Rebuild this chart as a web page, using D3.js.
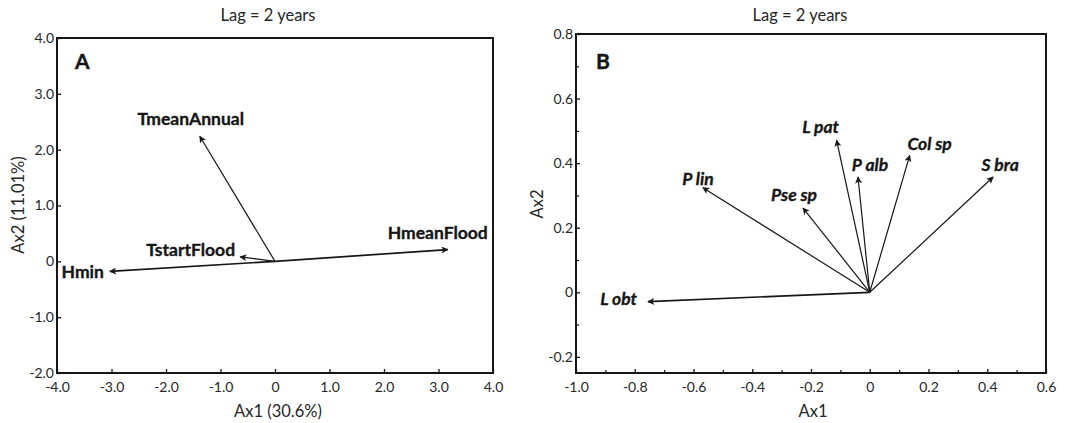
<!DOCTYPE html>
<html>
<head>
<meta charset="utf-8">
<script src="https://cdn.jsdelivr.net/npm/d3@7"></script>
<style>
  html, body { margin: 0; padding: 0; background: #fff; }
  svg { display: block; font-family: "Lato", "Open Sans", sans-serif; }
</style>
</head>
<body>
<svg id="chart" width="1071" height="423"></svg>
<script>
// ---------------- DATA ----------------
const titleText = "Lag = 2 years";

// Panel A: environmental variables (Ax1, Ax2)
const envNames = ["TmeanAnnual", "HmeanFlood", "Hmin", "TstartFlood"];
const envAx1   = [-1.38, 3.17, -3.03, -0.64];
const envAx2   = [2.24, 0.21, -0.18, 0.08];
const aXTicks  = [-4, -3, -2, -1, 0, 1, 2, 3, 4];
const aYTicks  = [-2, -1, 0, 1, 2, 3, 4];
const aXLabel  = "Ax1 (30.6%)";
const aYLabel  = "Ax2 (11.01%)";

// Panel B: species (Ax1, Ax2)
const spNames = ["L pat", "P alb", "Col sp", "S bra", "P lin", "Pse sp", "L obt"];
const spAx1   = [-0.113, -0.040, 0.136, 0.420, -0.568, -0.227, -0.755];
const spAx2   = [0.471, 0.357, 0.424, 0.357, 0.324, 0.261, -0.029];
const bXTicks = [-1.0, -0.8, -0.6, -0.4, -0.2, 0, 0.2, 0.4, 0.6];
const bYTicks = [-0.2, 0, 0.2, 0.4, 0.6, 0.8];
const bXLabel = "Ax1";
const bYLabel = "Ax2";

// ---------------- LAYOUT / STYLE ----------------
const svg = d3.select("#chart");
const ink = "#161616";

// label placement (pixel offsets from arrow tip, text anchor)
const envLabelPos = {
  "TmeanAnnual": {dx: -9,  dy: -18, anchor: "middle"},
  "HmeanFlood":  {dx: -10, dy: -17, anchor: "middle"},
  "Hmin":        {dx: -6,  dy: 0,   anchor: "end"},
  "TstartFlood": {dx: -5,  dy: -7,  anchor: "end"}
};
const spLabelPos = {
  "L pat":  {dx: -16, dy: -14, anchor: "middle"},
  "P alb":  {dx: 12,  dy: -12, anchor: "middle"},
  "Col sp": {dx: 20,  dy: -12, anchor: "middle"},
  "S bra":  {dx: 7,   dy: -12, anchor: "middle"},
  "P lin":  {dx: -5,  dy: -9,  anchor: "middle"},
  "Pse sp": {dx: -9,  dy: -13, anchor: "middle"},
  "L obt":  {dx: -11, dy: -3,  anchor: "end"}
};

// arrowhead marker
const defs = svg.append("defs");
defs.append("marker")
  .attr("id", "head")
  .attr("viewBox", "0 0 10 10")
  .attr("refX", 9).attr("refY", 5)
  .attr("markerWidth", 9).attr("markerHeight", 7)
  .attr("markerUnits", "userSpaceOnUse")
  .attr("orient", "auto")
  .append("path")
  .attr("d", "M0,0 L10,5 L0,10 L2.5,5 Z")
  .attr("fill", ink);

const tickFont = 14;
const textFont = 16.5;
const labelFont = 17.5;
const textInk = "#262626";

function panel(opts) {
  const x = d3.scaleLinear().domain(opts.xDomain).range(opts.xRange);
  const y = d3.scaleLinear().domain(opts.yDomain).range(opts.yRange);
  const g = svg.append("g");

  // title
  g.append("text")
    .attr("x", opts.titleX).attr("y", 21)
    .attr("text-anchor", "middle")
    .attr("font-size", textFont)
    .attr("fill", textInk)
    .text(titleText);

  const fmt = opts.fmt;

  // minor ticks
  if (opts.xMinor) {
    g.append("g")
      .attr("transform", `translate(0,${opts.yRange[0]})`)
      .call(d3.axisBottom(x).tickValues(opts.xMinor).tickSize(-3).tickFormat(""))
      .call(a => a.select(".domain").remove())
      .call(a => a.selectAll("line").attr("stroke", ink).attr("stroke-width", 1.2));
    g.append("g")
      .attr("transform", `translate(${opts.xRange[0]},0)`)
      .call(d3.axisLeft(y).tickValues(opts.yMinor).tickSize(-3).tickFormat(""))
      .call(a => a.select(".domain").remove())
      .call(a => a.selectAll("line").attr("stroke", ink).attr("stroke-width", 1.2));
  }

  // x axis
  const gx = g.append("g")
    .attr("transform", `translate(0,${opts.yRange[0]})`)
    .call(d3.axisBottom(x).tickValues(opts.xTicks).tickSize(-4).tickPadding(9).tickFormat(fmt));
  gx.select(".domain").remove();
  gx.selectAll("line").attr("stroke", ink).attr("stroke-width", 1.3);
  gx.selectAll("text").attr("font-size", tickFont).attr("fill", textInk).attr("font-family", "Lato");

  // y axis
  const gy = g.append("g")
    .attr("transform", `translate(${opts.xRange[0]},0)`)
    .call(d3.axisLeft(y).tickValues(opts.yTicks).tickSize(-4).tickPadding(3).tickFormat(fmt));
  gy.select(".domain").remove();
  gy.selectAll("line").attr("stroke", ink).attr("stroke-width", 1.3);
  gy.selectAll("text").attr("font-size", tickFont).attr("fill", textInk).attr("font-family", "Lato");

  // frame
  g.append("rect")
    .attr("x", opts.xRange[0]).attr("y", opts.yRange[1])
    .attr("width", opts.xRange[1] - opts.xRange[0])
    .attr("height", opts.yRange[0] - opts.yRange[1])
    .attr("fill", "none").attr("stroke", ink).attr("stroke-width", 2);

  // axis titles
  g.append("text")
    .attr("x", opts.xLabelX).attr("y", 417)
    .attr("text-anchor", "middle").attr("font-size", textFont).attr("fill", textInk)
    .text(opts.xLabel);
  g.append("text")
    .attr("transform", `translate(${opts.yLabelX},${opts.yLabelY}) rotate(-90)`)
    .attr("text-anchor", "middle").attr("font-size", textFont).attr("fill", textInk)
    .text(opts.yLabel);

  // panel letter
  g.append("text")
    .attr("x", opts.letterX).attr("y", 69)
    .attr("font-size", 21).attr("font-weight", "bold").attr("fill", ink)
    .attr("stroke", ink).attr("stroke-width", 0.4)
    .text(opts.letter);

  // arrows
  const pts = opts.names.map((n, i) => ({name: n, ax1: opts.ax1[i], ax2: opts.ax2[i]}));
  g.selectAll("line.arrow").data(pts).join("line")
    .attr("class", "arrow")
    .attr("x1", x(0)).attr("y1", y(0))
    .attr("x2", d => x(d.ax1)).attr("y2", d => y(d.ax2))
    .attr("stroke", ink).attr("stroke-width", d => opts.thick && opts.thick.includes(d.name) ? 1.7 : 1.2)
    .attr("marker-end", "url(#head)");

  g.selectAll("text.lbl").data(pts).join("text")
    .attr("class", "lbl")
    .attr("x", d => x(d.ax1) + opts.labelPos[d.name].dx)
    .attr("y", d => y(d.ax2) + opts.labelPos[d.name].dy)
    .attr("dy", "0.36em")
    .attr("text-anchor", d => opts.labelPos[d.name].anchor)
    .attr("font-size", labelFont)
    .attr("font-weight", "bold")
    .attr("font-style", opts.italic ? "italic" : "normal")
    .attr("fill", ink)
    .attr("stroke", ink).attr("stroke-width", 0.35)
    .text(d => d.name);
}

const hyphenFmt = d => Math.abs(d) < 1e-9 ? "0" : d3.format(".1f")(d).replace("\u2212", "-");

panel({
  xDomain: [-4, 4], xRange: [57, 493],
  yDomain: [-2, 4], yRange: [373, 38],
  xTicks: aXTicks, yTicks: aYTicks,
  fmt: hyphenFmt,
  titleX: 268, xLabel: aXLabel, xLabelX: 278, yLabel: aYLabel, yLabelX: 24, yLabelY: 205,
  letter: "A", letterX: 75,
  names: envNames, ax1: envAx1, ax2: envAx2, labelPos: envLabelPos,
  thick: ["HmeanFlood", "Hmin"], italic: false
});

panel({
  xDomain: [-1.0, 0.6], xRange: [576, 1046],
  yDomain: [-0.25, 0.8], yRange: [373, 34],
  xTicks: bXTicks, yTicks: bYTicks,
  xMinor: [-0.9, -0.7, -0.5, -0.3, -0.1, 0.1, 0.3, 0.5],
  yMinor: [-0.1, 0.1, 0.3, 0.5, 0.7],
  fmt: hyphenFmt,
  titleX: 800, xLabel: bXLabel, xLabelX: 813, yLabel: bYLabel, yLabelX: 543, yLabelY: 204,
  letter: "B", letterX: 596,
  names: spNames, ax1: spAx1, ax2: spAx2, labelPos: spLabelPos,
  thick: ["L obt"], italic: true
});
</script>
</body>
</html>
